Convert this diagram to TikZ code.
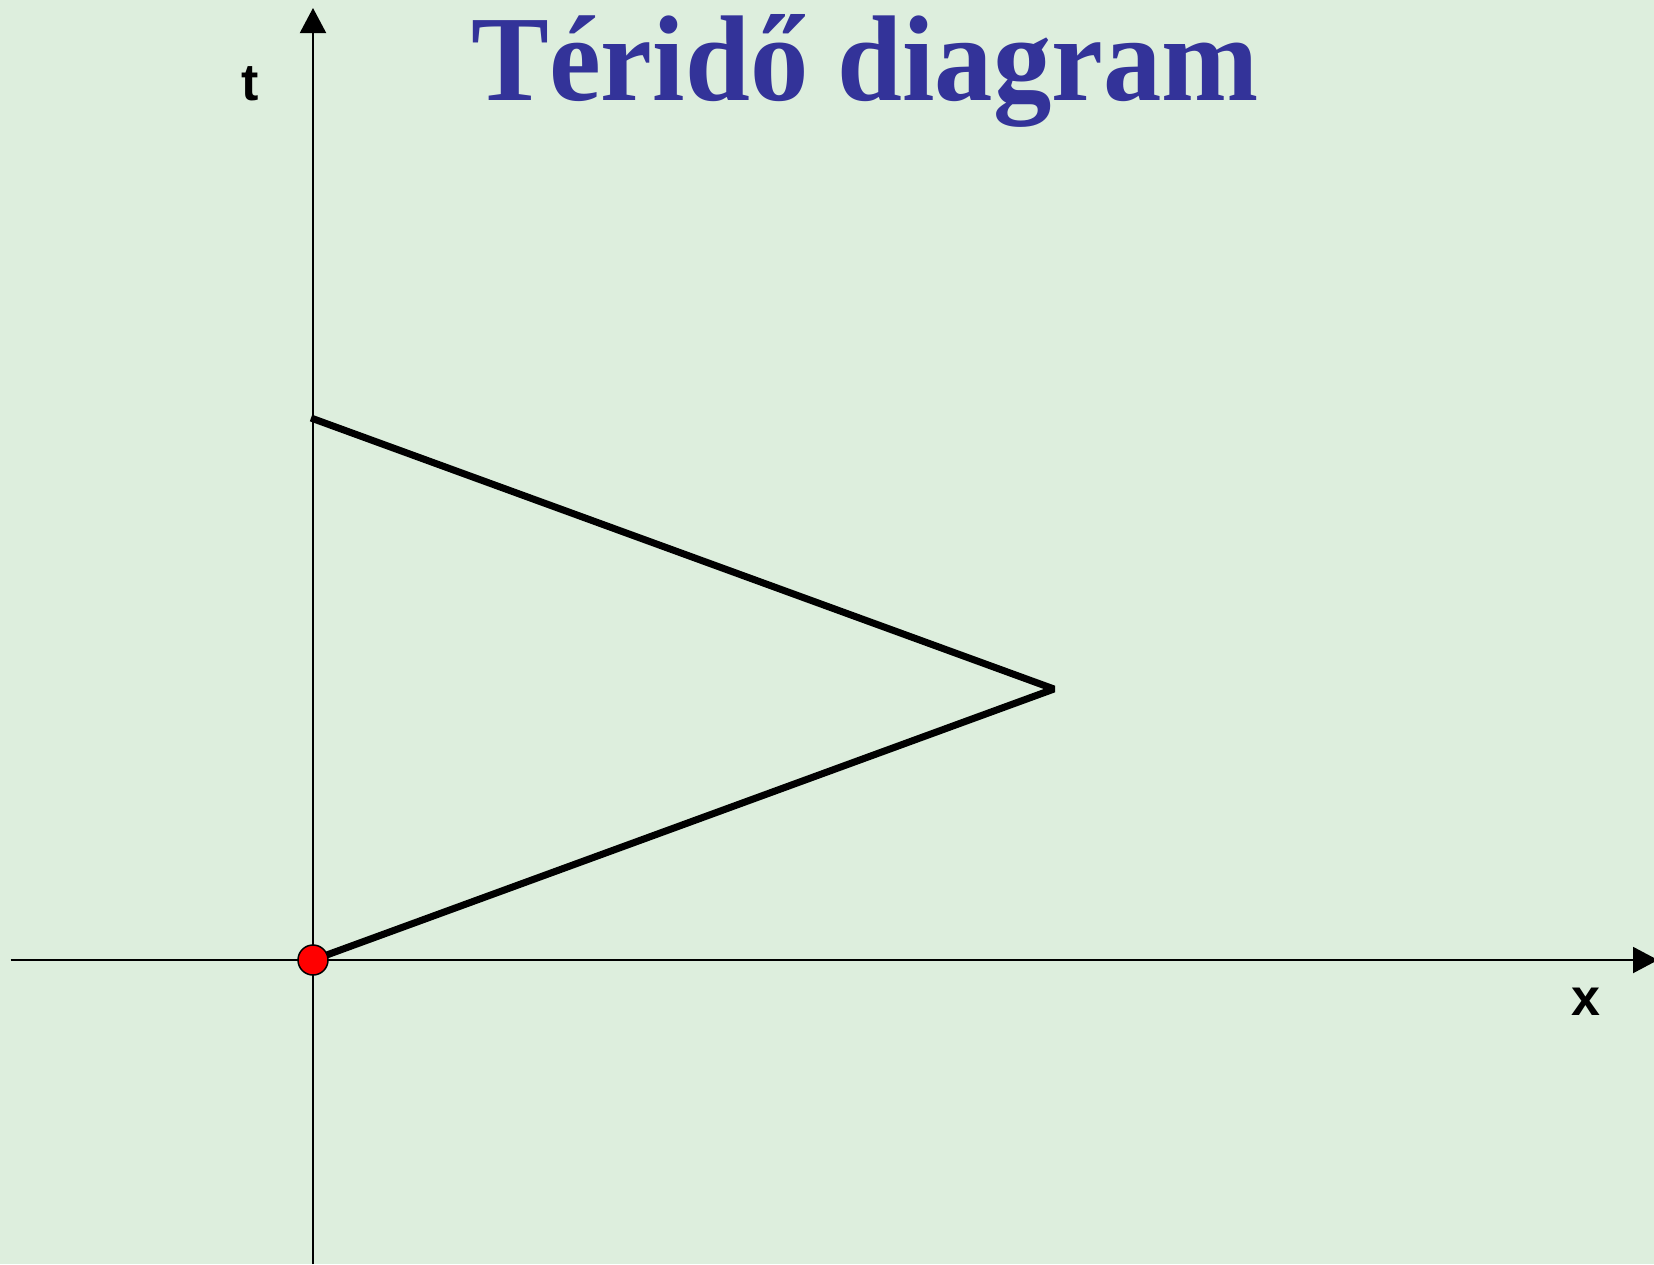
\documentclass[tikz,border=0pt]{standalone}
\usepackage{fontspec}
\setmainfont{Liberation Serif}
\setsansfont{Liberation Sans}
\usetikzlibrary{arrows.meta}
\definecolor{bg}{RGB}{221,238,221}
\definecolor{titleblue}{RGB}{51,51,153}
\definecolor{dotred}{RGB}{255,0,0}
\tikzset{
  axis/.style={line width=2pt, -{Triangle[length=25pt,width=26pt]}},
  world/.style={line width=7pt, line cap=butt, line join=bevel},
  event/.style={circle, draw=black, line width=1.5pt, fill=dotred, minimum size=30pt, inner sep=0pt},
  axlabel/.style={font=\sffamily\bfseries\fontsize{52}{60}\selectfont, inner sep=0pt},
  titlestyle/.style={font=\rmfamily\bfseries\fontsize{122}{140}\selectfont, text=titleblue, inner sep=0pt}
}
\begin{document}
\begin{tikzpicture}[x=1pt,y=-1pt]
  \useasboundingbox (0,0) rectangle (1654,1264);
  \fill[bg] (0,0) rectangle (1654,1264);
  \coordinate (ybot) at (313,1264);
  \coordinate (ytop) at (313,8);
  \coordinate (xleft) at (10.5,960);
  \coordinate (xright) at (1658,960);
  \coordinate (O) at (313,960);
  \coordinate (V) at (1054,689);
  \coordinate (E) at (311,418);
  \draw[axis] (ybot) -- (ytop);
  \draw[axis] (xleft) -- (xright);
  \draw[world] (O) -- (V) -- (E);
  \node[event] (origin) at (O) {};
  \node[axlabel, anchor=base] (tlabel) at (250,100) {t};
  \node[axlabel, anchor=base] (xlabel) at (1586,1015) {x};
  \node[titlestyle, anchor=base] (title) at (865,100) {\scalebox{0.956}[1]{Téridő diagram}};
\end{tikzpicture}
\end{document}
